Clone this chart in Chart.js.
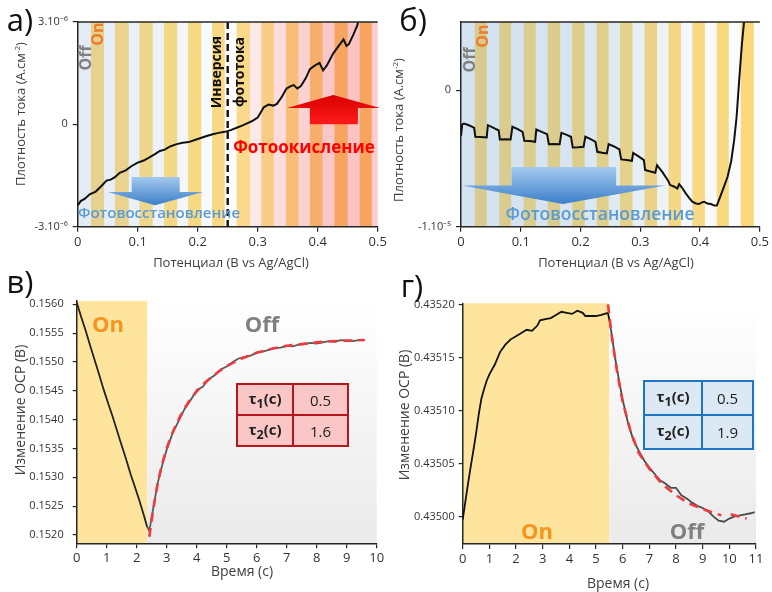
<!DOCTYPE html>
<html>
<head>
<meta charset="utf-8">
<script src="https://cdn.jsdelivr.net/npm/chart.js@4.4.0/dist/chart.umd.min.js"></script>
<style>
  body { margin: 0; width: 772px; height: 592px; position: relative; overflow: hidden; background: #fff; font-family: "Open Sans", sans-serif; }
  canvas { position: absolute; }
  .t { position: absolute; white-space: nowrap; line-height: 1; transform: translate(-50%, -50%); z-index: 2; }
  .r { transform: translate(-50%, -50%) rotate(-90deg); }
  .panel { font-size: 31px; color: #111; }
  .ax { font-size: 13px; color: #404040; }
  .ax2 { font-size: 14px; color: #404040; }
  table.tau { position: absolute; border-collapse: collapse; z-index: 2; font-size: 15px; color: #222; }
  table.tau td { text-align: center; padding: 0; }
  table.tau td.k { font-weight: bold; }
  table.red td { border: 2px solid #b4161c; background: #fac6c6; }
  table.blue td { border: 2px solid #1c76c4; background: #dce8f4; }
</style>
</head>
<body>
<canvas id="chA" width="390" height="280" style="left:0;top:0"></canvas>
<canvas id="chB" width="387" height="280" style="left:385px;top:0"></canvas>
<canvas id="chC" width="390" height="330" style="left:0;top:262px"></canvas>
<canvas id="chD" width="387" height="330" style="left:385px;top:262px"></canvas>

<!-- panel letters -->
<div class="t panel" style="left:20px;top:19px">а)</div>
<div class="t panel" style="left:413px;top:19px">б)</div>
<div class="t panel" style="left:20px;top:281px">в)</div>
<div class="t panel" style="left:412px;top:285px">г)</div>

<!-- axis titles -->
<div class="t r ax" style="left:20px;top:114px">Плотность тока (А.см<sup style="font-size:8px">-2</sup>)</div>
<div class="t ax" style="left:231px;top:262px">Потенциал (В vs Ag/AgCl)</div>
<div class="t r ax" style="left:398px;top:130px">Плотность тока (А.см<sup style="font-size:8px">-2</sup>)</div>
<div class="t ax" style="left:616px;top:262px">Потенциал (В vs Ag/AgCl)</div>
<div class="t r ax2" style="left:20px;top:410px">Изменение ОСР (В)</div>
<div class="t ax2" style="left:242px;top:571px">Время (с)</div>
<div class="t r ax2" style="left:404px;top:415px">Изменение ОСР (В)</div>
<div class="t ax2" style="left:618px;top:583px">Время (с)</div>

<!-- labels inside а -->
<div class="t r" style="left:85px;top:58px;font-size:16px;font-weight:bold;color:#808080">Off</div>
<div class="t r" style="left:97px;top:34px;font-size:16px;font-weight:bold;color:#ef7b2d">On</div>
<div class="t r" style="left:216px;top:72px;font-size:14px;font-weight:bold;color:#111">Инверсия</div>
<div class="t r" style="left:239px;top:72px;font-size:14px;font-weight:bold;color:#111">фототока</div>
<div class="t" style="left:304px;top:146px;font-size:17px;font-weight:bold;color:#ff0000">Фотоокисление</div>
<div class="t" style="left:159px;top:212px;font-size:15px;font-weight:600;color:#5b9bd5">Фотовосстановление</div>

<!-- labels inside б -->
<div class="t r" style="left:469px;top:60px;font-size:16px;font-weight:bold;color:#808080">Off</div>
<div class="t r" style="left:482px;top:36px;font-size:16px;font-weight:bold;color:#ef7b2d">On</div>
<div class="t" style="left:600px;top:214px;font-size:17.5px;font-weight:600;color:#5b9bd5">Фотовосстановление</div>

<!-- labels inside в -->
<div class="t" style="left:108px;top:323px;font-size:22px;font-weight:bold;color:#f7941d">On</div>
<div class="t" style="left:262px;top:323px;font-size:22px;font-weight:bold;color:#808080">Off</div>
<table class="tau red" style="left:236px;top:383px;width:113px;height:64px">
  <tr><td class="k" style="width:54px">τ<sub>1</sub>(с)</td><td>0.5</td></tr>
  <tr><td class="k">τ<sub>2</sub>(с)</td><td>1.6</td></tr>
</table>

<!-- labels inside г -->
<div class="t" style="left:537px;top:530px;font-size:22px;font-weight:bold;color:#f7941d">On</div>
<div class="t" style="left:687px;top:530px;font-size:22px;font-weight:bold;color:#808080">Off</div>
<table class="tau blue" style="left:643px;top:380px;width:111px;height:70px">
  <tr><td class="k" style="width:56px">τ<sub>1</sub>(с)</td><td>0.5</td></tr>
  <tr><td class="k">τ<sub>2</sub>(с)</td><td>1.9</td></tr>
</table>

<script>
// ---- а) photocurrent under chopped light, sample 1 (current in 1e-6 A/cm2)
const potA = [0, 0.005, 0.012, 0.02, 0.03, 0.04, 0.048, 0.055, 0.062, 0.07, 0.08, 0.09, 0.1, 0.11, 0.118,
  0.128, 0.137, 0.145, 0.155, 0.165, 0.175, 0.185, 0.195, 0.205, 0.215, 0.225, 0.235, 0.245, 0.255, 0.265,
  0.275, 0.285, 0.29, 0.3, 0.305, 0.31, 0.318, 0.326, 0.332, 0.34, 0.348, 0.355, 0.36, 0.366, 0.372,
  0.38, 0.387, 0.395, 0.403, 0.409, 0.415, 0.426, 0.435, 0.443, 0.448, 0.452, 0.46, 0.466, 0.47, 0.474];
const curA = [-2.38, -2.25, -2.18, -2.05, -1.97, -1.80, -1.65, -1.62, -1.55, -1.42, -1.35, -1.22, -1.12, -1.06, -0.98,
  -0.88, -0.78, -0.74, -0.64, -0.58, -0.54, -0.52, -0.46, -0.40, -0.34, -0.29, -0.25, -0.22, -0.17, -0.10,
  -0.03, 0.05, 0.09, 0.20, 0.35, 0.50, 0.58, 0.55, 0.60, 0.80, 1.05, 1.12, 1.15, 1.05, 1.12,
  1.35, 1.62, 1.72, 1.80, 1.58, 1.72, 2.08, 2.30, 2.49, 2.30, 2.35, 2.65, 2.90, 3.20, 3.60];
const lightOnA = [[0.022, 0.044], [0.062, 0.085], [0.103, 0.125], [0.144, 0.166], [0.184, 0.206], [0.224, 0.245],
  [0.265, 0.287], [0.306, 0.327], [0.347, 0.368], [0.387, 0.408], [0.428, 0.45], [0.47, 0.49]];
const inversionA = 0.25;
const yTicksA = [-3, 0, 3];
const yLabelsA = ['-3.10⁻⁶', '0', '3.10⁻⁶'];

// ---- б) photocurrent under chopped light, sample 2 (current in 1e-6 A/cm2)
const potB = [0, 0.002, 0.005, 0.012, 0.02, 0.022, 0.024, 0.033, 0.043, 0.045, 0.052, 0.06, 0.063, 0.065, 0.075,
  0.083, 0.086, 0.095, 0.103, 0.106, 0.115, 0.124, 0.126, 0.135, 0.144, 0.147, 0.155, 0.165, 0.168, 0.176,
  0.184, 0.187, 0.196, 0.205, 0.208, 0.217, 0.225, 0.228, 0.236, 0.244, 0.247, 0.256, 0.265, 0.268, 0.277,
  0.286, 0.288, 0.297, 0.306, 0.308, 0.317, 0.325, 0.328, 0.337, 0.346, 0.35, 0.356, 0.362, 0.365, 0.37,
  0.376, 0.382, 0.387, 0.393, 0.398, 0.404, 0.407, 0.412, 0.418, 0.424, 0.428, 0.432, 0.438, 0.446, 0.452,
  0.457, 0.461, 0.465, 0.47, 0.474];
const curB = [-3.37, -2.5, -2.44, -2.55, -2.7, -2.75, -3.41, -3.42, -3.46, -2.56, -2.7, -2.88, -2.93, -3.61, -3.6,
  -3.61, -2.68, -2.85, -3.05, -3.71, -3.72, -3.78, -2.88, -3.05, -3.22, -3.95, -3.94, -3.95, -3.12, -3.25,
  -3.41, -4.2, -4.18, -4.15, -3.41, -3.58, -3.78, -4.51, -4.58, -4.63, -3.95, -4.12, -4.34, -5.07, -5.12,
  -5.17, -4.59, -4.85, -5.12, -5.85, -5.95, -6.05, -5.49, -6.0, -6.59, -6.95, -7.05, -7.2, -6.88, -7.15,
  -7.56, -7.9, -8.17, -8.3, -8.34, -8.2, -8.17, -8.3, -8.34, -8.45, -8.45, -8.0, -7.3, -6.34, -5.2,
  -3.66, -2.0, 0.49, 3.41, 5.2];
const lightOnB = [[0.023, 0.043], [0.064, 0.084], [0.105, 0.125], [0.145, 0.166], [0.186, 0.207], [0.227, 0.247],
  [0.266, 0.287], [0.307, 0.328], [0.347, 0.368], [0.387, 0.408], [0.428, 0.448], [0.468, 0.49]];
const yTicksB = [-10, 0];
const yLabelsB = ['-1.10⁻⁵', '0'];

const potTicks = [0, 0.1, 0.2, 0.3, 0.4, 0.5];
const potLabels = ['0', '0.1', '0.2', '0.3', '0.4', '0.5'];

// ---- в) OCP transient, sample 1
const timeC = [0, 0.15, 0.3, 0.45, 0.6, 0.75, 0.9, 1.05, 1.2, 1.35, 1.5, 1.65, 1.8, 1.95, 2.1, 2.25, 2.35,
  2.4, 2.45, 2.55, 2.7, 2.85, 3.0, 3.2, 3.4, 3.6, 3.8, 4.0, 4.2, 4.4, 4.6, 4.8, 5.0, 5.2, 5.4, 5.6, 5.8,
  6.0, 6.2, 6.4, 6.6, 6.8, 7.0, 7.2, 7.4, 7.6, 7.8, 8.0, 8.2, 8.4, 8.6, 8.8, 9.0, 9.2, 9.4, 9.6];
const ocpC = [0.15603, 0.15578, 0.15554, 0.15528, 0.15503, 0.15478, 0.15452, 0.15428, 0.15405, 0.15380, 0.15355,
  0.15331, 0.15305, 0.15282, 0.15258, 0.15232, 0.15214,
  0.15209, 0.15216, 0.15246, 0.15290, 0.15321, 0.15348, 0.15377, 0.15398, 0.15419, 0.15434, 0.15451, 0.15457,
  0.15470, 0.15477, 0.15487, 0.15492, 0.15500, 0.15506, 0.15509, 0.15511, 0.15516, 0.15518, 0.15521, 0.15524,
  0.15525, 0.15528, 0.15527, 0.15530, 0.15531, 0.15533, 0.15532, 0.15534, 0.15536, 0.15535, 0.15538, 0.15537,
  0.15536, 0.15538, 0.15538];
const fitTimeC = [2.42, 2.5, 2.6, 2.7, 2.85, 3.0, 3.15, 3.3, 3.45, 3.6, 3.8, 4.0, 4.25, 4.5, 4.75, 5.0, 5.5,
  6.0, 6.5, 7.0, 7.5, 8.0, 8.5, 9.0, 9.6];
const fitC = [0.15197, 0.15226, 0.15260, 0.15290, 0.15324, 0.15350, 0.15372, 0.15390, 0.15406, 0.15420, 0.15436,
  0.15449, 0.15463, 0.15474, 0.15484, 0.15493, 0.15506, 0.15516, 0.15523, 0.15528, 0.15531, 0.15534, 0.15536,
  0.15537, 0.15538];
const lightEndC = 2.35;
const yTicksC = [0.1520, 0.1525, 0.1530, 0.1535, 0.1540, 0.1545, 0.1550, 0.1555, 0.1560];
const yLabelsC = ['0.1520', '0.1525', '0.1530', '0.1535', '0.1540', '0.1545', '0.1550', '0.1555', '0.1560'];
const xTicksC = [0, 1, 2, 3, 4, 5, 6, 7, 8, 9, 10];

// ---- г) OCP transient, sample 2
const timeD = [0, 0.1, 0.2, 0.3, 0.4, 0.5, 0.6, 0.7, 0.8, 0.9, 1.0, 1.2, 1.4, 1.6, 1.8, 2.0, 2.2, 2.4, 2.6,
  2.8, 2.9, 3.1, 3.3, 3.5, 3.7, 3.9, 4.1, 4.3, 4.5, 4.6, 4.8, 5.0, 5.2, 5.45,
  5.5, 5.6, 5.7, 5.85, 6.0, 6.2, 6.4, 6.6, 6.8, 7.0, 7.2, 7.4, 7.6, 7.8, 8.0, 8.2, 8.4, 8.6, 8.8, 9.0,
  9.2, 9.4, 9.6, 9.8, 10.0, 10.2, 10.4, 10.6, 10.8, 10.95];
const ocpD = [0.434997, 0.435014, 0.435031, 0.435047, 0.435062, 0.435078, 0.435096, 0.435111, 0.435120, 0.435128,
  0.435134, 0.435143, 0.435155, 0.435162, 0.435167, 0.435170, 0.435173, 0.435176, 0.435175, 0.435180, 0.435185,
  0.435186, 0.435187, 0.435190, 0.435193, 0.435192, 0.435191, 0.435194, 0.435192, 0.435189, 0.435189, 0.435189,
  0.435190, 0.435192,
  0.435185, 0.435170, 0.435152, 0.435130, 0.435110, 0.435088, 0.435072, 0.435062, 0.435053, 0.435046, 0.435040,
  0.435034, 0.435031, 0.435027, 0.435027, 0.435020, 0.435017, 0.435013, 0.435010, 0.435008, 0.435005, 0.435000,
  0.434996, 0.434995, 0.434998, 0.435000, 0.435001, 0.435002, 0.435003, 0.435004];
const fitTimeD = [5.45, 5.6, 5.8, 6.0, 6.3, 6.6, 7.0, 7.5, 8.0, 8.5, 9.0, 9.7, 9.85, 10.05, 10.35, 10.65];
const fitD = [0.435200, 0.435168, 0.435135, 0.435108, 0.435080, 0.435060, 0.435045, 0.435030, 0.435020, 0.435012,
  0.435007, 0.435001, null, 0.435002, 0.435000, 0.434998];
const lightEndD = 5.5;
const yTicksD = [0.43500, 0.43505, 0.43510, 0.43515, 0.43520];
const yLabelsD = ['0.43500', '0.43505', '0.43510', '0.43515', '0.43520'];
const xTicksD = [0, 1, 2, 3, 4, 5, 6, 7, 8, 9, 10, 11];

// annotation arrows, in data units
const arrowsA = [
  { shaft: [0.09, 0.17], base: -1.54, neck: -1.98, head: [0.0505, 0.209], tip: [0.129, -2.37], colors: ['#a5c9ee', '#3b7fc9'] },
  { shaft: [0.387, 0.467], base: 0.0, neck: 0.48, head: [0.349, 0.504], tip: [0.426, 0.86], colors: ['#ff1a1a', '#d90000'] }
];
const arrowsB = [
  { shaft: [0.0845, 0.2595], base: -5.63, neck: -6.99, head: [0.0017, 0.342], tip: [0.1705, -8.34], colors: ['#a5c9ee', '#3b7fc9'] }
];

// stripe palettes: off periods go blue -> white -> pink, on periods khaki -> gold -> orange
const offColorsA = ['#e3ecf6', '#e6eef7', '#e9f0f8', '#edf2f9', '#f3f6fa', '#f9fafc', '#fdfbfb', '#fde9e9',
  '#fcdcdc', '#fbd1d1', '#fbc6c6', '#fbc4c4', '#fccdcd'];
const onColorsA = ['#e6d18e', '#e9d38f', '#eed68b', '#f3d886', '#f7d983', '#f9d985', '#fad98b', '#f9cc85',
  '#f8bd78', '#f7ae6a', '#f6a460', '#f6a45e'];
const offColorsB = ['#d4e3f1', '#d4e3f1', '#d5e3f1', '#d6e4f1', '#d8e5f1', '#dbe7f2', '#e0eaf3', '#e6eef6',
  '#eef3f8', '#f4f7fa', '#f7f9fb', '#fafbfc', '#fdfdfd'];
const onColorsB = ['#d8cb8e', '#d9cc8e', '#dacd8e', '#dbcd8d', '#ddce8c', '#dfcf8b', '#e4d18a', '#ead389',
  '#f4d886', '#f8d983', '#f9d97f', '#fbd87c'];

const FONT = '"Open Sans", sans-serif';
const AXIS = '#262626';

function stripesPlugin(on, onColors, offColors) {
  return {
    id: 'stripes',
    beforeDraw(chart) {
      const { ctx, chartArea: a, scales: { x } } = chart;
      const px = v => Math.min(a.right, Math.max(a.left, x.getPixelForValue(v)));
      ctx.save();
      let prev = x.min;
      on.forEach(([s, e], i) => {
        ctx.fillStyle = offColors[i];
        ctx.fillRect(px(prev), a.top, px(s) - px(prev) + 0.5, a.bottom - a.top);
        ctx.fillStyle = onColors[i];
        ctx.fillRect(px(s), a.top, px(e) - px(s) + 0.5, a.bottom - a.top);
        prev = e;
      });
      ctx.fillStyle = offColors[on.length];
      ctx.fillRect(px(prev), a.top, px(x.max) - px(prev), a.bottom - a.top);
      ctx.restore();
    },
    afterDraw(chart) {
      // frame line along the top
      const { ctx, chartArea: a } = chart;
      ctx.save();
      ctx.strokeStyle = AXIS;
      ctx.lineWidth = 1.5;
      ctx.beginPath();
      ctx.moveTo(a.left, a.top);
      ctx.lineTo(a.right, a.top);
      ctx.stroke();
      ctx.restore();
    }
  };
}

function arrowsPlugin(arrows, dashedAt) {
  return {
    id: 'arrows',
    beforeDatasetsDraw(chart) {
      const { ctx, chartArea: a, scales: { x, y } } = chart;
      ctx.save();
      arrows.forEach(ar => {
        const X = v => x.getPixelForValue(v), Y = v => y.getPixelForValue(v);
        const g = ctx.createLinearGradient(0, Y(ar.base), 0, Y(ar.tip[1]));
        g.addColorStop(0, ar.colors[0]);
        g.addColorStop(1, ar.colors[1]);
        ctx.fillStyle = g;
        ctx.beginPath();
        ctx.moveTo(X(ar.shaft[0]), Y(ar.base));
        ctx.lineTo(X(ar.shaft[1]), Y(ar.base));
        ctx.lineTo(X(ar.shaft[1]), Y(ar.neck));
        ctx.lineTo(X(ar.head[1]), Y(ar.neck));
        ctx.lineTo(X(ar.tip[0]), Y(ar.tip[1]));
        ctx.lineTo(X(ar.head[0]), Y(ar.neck));
        ctx.lineTo(X(ar.shaft[0]), Y(ar.neck));
        ctx.closePath();
        ctx.fill();
      });
      if (dashedAt !== undefined) {
        const xp = x.getPixelForValue(dashedAt);
        ctx.strokeStyle = '#111';
        ctx.lineWidth = 2.4;
        ctx.setLineDash([7, 4]);
        ctx.beginPath();
        ctx.moveTo(xp, a.top);
        ctx.lineTo(xp, a.bottom);
        ctx.stroke();
      }
      ctx.restore();
    }
  };
}

function lightPlugin(lightEnd) {
  return {
    id: 'light',
    beforeDraw(chart) {
      const { ctx, chartArea: a, scales: { x } } = chart;
      const xe = x.getPixelForValue(lightEnd);
      ctx.save();
      ctx.fillStyle = '#fee49c';
      ctx.fillRect(a.left, a.top, xe - a.left, a.bottom - a.top);
      const g = ctx.createLinearGradient(0, a.top, 0, a.bottom);
      g.addColorStop(0, '#ffffff');
      g.addColorStop(1, '#eaeaea');
      ctx.fillStyle = g;
      ctx.fillRect(xe, a.top, a.right - xe, a.bottom - a.top);
      ctx.restore();
    }
  };
}

function axis(opts) {
  return {
    type: 'linear',
    min: opts.min,
    max: opts.max,
    afterFit: s => { if (s.isHorizontal()) s.height = opts.size; else s.width = opts.size; },
    afterBuildTicks: s => { s.ticks = opts.ticks.map(v => ({ value: v })); },
    ticks: {
      autoSkip: false,
      maxRotation: 0,
      padding: opts.pad,
      color: '#333',
      font: { family: FONT, size: opts.font },
      callback: (v, i) => opts.labels[i]
    },
    grid: { drawOnChartArea: false, drawTicks: true, tickLength: opts.tick, color: AXIS, lineWidth: 1.2 },
    border: { display: true, color: AXIS, width: 1.5 }
  };
}

function options(pad, x, y) {
  return {
    responsive: false,
    animation: false,
    events: [],
    layout: { padding: { top: pad.top, right: pad.right, left: 0, bottom: 0 } },
    plugins: { legend: { display: false }, tooltip: { enabled: false } },
    elements: { point: { radius: 0 }, line: { tension: 0 } },
    scales: { x: axis(x), y: axis(y) }
  };
}

const pts = (xs, ys) => xs.map((v, i) => ({ x: v, y: ys[i] }));

new Chart(document.getElementById('chA'), {
  type: 'line',
  data: { datasets: [{ data: pts(potA, curA), borderColor: '#111', borderWidth: 2 }] },
  options: options({ top: 22, right: 12.3 },
    { min: 0, max: 0.5, size: 53.3, ticks: potTicks, labels: potLabels, font: 13, pad: 3, tick: 5 },
    { min: -3, max: 3, size: 77.7, ticks: yTicksA, labels: yLabelsA, font: 11, pad: 5, tick: 5 }),
  plugins: [stripesPlugin(lightOnA, onColorsA, offColorsA), arrowsPlugin(arrowsA, inversionA)]
});

new Chart(document.getElementById('chB'), {
  type: 'line',
  data: { datasets: [{ data: pts(potB, curB), borderColor: '#111', borderWidth: 2 }] },
  options: options({ top: 22, right: 11 },
    { min: 0, max: 0.5, size: 53.3, ticks: potTicks, labels: potLabels, font: 13, pad: 3, tick: 5 },
    { min: -10, max: 5, size: 76, ticks: yTicksB, labels: yLabelsB, font: 11, pad: 5, tick: 5 }),
  plugins: [stripesPlugin(lightOnB, onColorsB, offColorsB), arrowsPlugin(arrowsB)]
});

// the fitted curves carry order 0 so they are painted over the measured trace
new Chart(document.getElementById('chC'), {
  type: 'line',
  data: {
    datasets: [
      { data: pts(timeC, ocpC), order: 1, borderWidth: 1.8, borderColor: '#222',
        segment: { borderColor: c => c.p0.parsed.x >= lightEndC ? '#5a5a5a' : '#222' } },
      { data: pts(fitTimeC, fitC), order: 0, borderWidth: 2.6, borderColor: '#f0393c', borderDash: [9, 6] }
    ]
  },
  options: options({ top: 39, right: 13.3 },
    { min: 0, max: 10, size: 48.7, ticks: xTicksC, labels: xTicksC.map(String), font: 13, pad: 2, tick: 5 },
    { min: 0.151856, max: 0.156057, size: 76.7, ticks: yTicksC, labels: yLabelsC, font: 11, pad: 9, tick: 4 }),
  plugins: [lightPlugin(lightEndC)]
});

new Chart(document.getElementById('chD'), {
  type: 'line',
  data: {
    datasets: [
      { data: pts(timeD, ocpD), order: 1, borderWidth: 1.8, borderColor: '#111',
        segment: { borderColor: c => c.p0.parsed.x >= lightEndD ? '#4a4a4a' : '#111' } },
      { data: pts(fitTimeD, fitD), order: 0, borderWidth: 2.6, borderColor: '#f0393c', borderDash: [9, 6], spanGaps: false }
    ]
  },
  options: options({ top: 41.3, right: 16 },
    { min: 0, max: 11, size: 48, ticks: xTicksD, labels: xTicksD.map(String), font: 13, pad: 2, tick: 5 },
    { min: 0.434974, max: 0.435201, size: 77.7, ticks: yTicksD, labels: yLabelsD, font: 11, pad: 4, tick: 4 }),
  plugins: [lightPlugin(lightEndD)]
});
</script>
</body>
</html>
